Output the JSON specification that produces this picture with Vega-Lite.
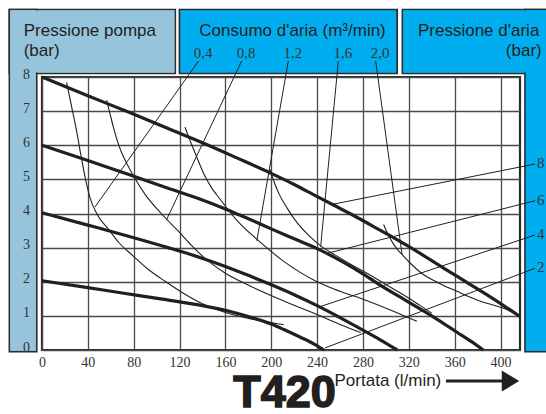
{
  "$schema": "https://vega.github.io/schema/vega-lite/v6.json",
  "width": 478,
  "height": 273,
  "autosize": {"type": "none"},
  "padding": {"left": 42, "top": 77, "right": 26, "bottom": 64},
  "background": "white",
  "config": {"view": {"stroke": "#2a2a2a", "strokeWidth": 2.2}},
  "resolve": {"axis": {"x": "independent", "y": "independent"}},
  "datasets": {
    "pump": [
      {"air": 8, "q": 0, "p": 8.0}, {"air": 8, "q": 40, "p": 7.45}, {"air": 8, "q": 77, "p": 6.95}, {"air": 8, "q": 110, "p": 6.49},
      {"air": 8, "q": 141, "p": 6.06}, {"air": 8, "q": 170, "p": 5.63}, {"air": 8, "q": 199, "p": 5.19}, {"air": 8, "q": 220, "p": 4.85},
      {"air": 8, "q": 236, "p": 4.57}, {"air": 8, "q": 253, "p": 4.27}, {"air": 8, "q": 273, "p": 3.92}, {"air": 8, "q": 287, "p": 3.66},
      {"air": 8, "q": 302, "p": 3.38}, {"air": 8, "q": 318, "p": 3.07}, {"air": 8, "q": 340, "p": 2.62}, {"air": 8, "q": 360, "p": 2.2},
      {"air": 8, "q": 390, "p": 1.58}, {"air": 8, "q": 417, "p": 0.98},
      {"air": 6, "q": 0, "p": 6.0}, {"air": 6, "q": 40, "p": 5.55}, {"air": 6, "q": 77, "p": 5.13}, {"air": 6, "q": 110, "p": 4.74},
      {"air": 6, "q": 134, "p": 4.47}, {"air": 6, "q": 161, "p": 4.12}, {"air": 6, "q": 175, "p": 3.92}, {"air": 6, "q": 190, "p": 3.7},
      {"air": 6, "q": 200, "p": 3.55}, {"air": 6, "q": 220, "p": 3.26}, {"air": 6, "q": 240, "p": 2.97}, {"air": 6, "q": 262, "p": 2.59},
      {"air": 6, "q": 280, "p": 2.23}, {"air": 6, "q": 295, "p": 1.9}, {"air": 6, "q": 318, "p": 1.44}, {"air": 6, "q": 339, "p": 1.02},
      {"air": 6, "q": 352, "p": 0.74}, {"air": 6, "q": 362, "p": 0.52}, {"air": 6, "q": 374, "p": 0.26}, {"air": 6, "q": 385, "p": 0.0},
      {"air": 4, "q": 0, "p": 4.02}, {"air": 4, "q": 40, "p": 3.66}, {"air": 4, "q": 77, "p": 3.32}, {"air": 4, "q": 110, "p": 3.0},
      {"air": 4, "q": 137, "p": 2.72}, {"air": 4, "q": 160, "p": 2.45}, {"air": 4, "q": 182, "p": 2.16}, {"air": 4, "q": 198, "p": 1.94},
      {"air": 4, "q": 220, "p": 1.62}, {"air": 4, "q": 240, "p": 1.3}, {"air": 4, "q": 260, "p": 0.95}, {"air": 4, "q": 280, "p": 0.58},
      {"air": 4, "q": 295, "p": 0.3}, {"air": 4, "q": 310, "p": 0.0},
      {"air": 2, "q": 0, "p": 2.03}, {"air": 2, "q": 40, "p": 1.83}, {"air": 2, "q": 70, "p": 1.67}, {"air": 2, "q": 105, "p": 1.49},
      {"air": 2, "q": 140, "p": 1.3}, {"air": 2, "q": 165, "p": 1.12}, {"air": 2, "q": 182, "p": 0.96}, {"air": 2, "q": 200, "p": 0.76},
      {"air": 2, "q": 211, "p": 0.6}, {"air": 2, "q": 225, "p": 0.38}, {"air": 2, "q": 237, "p": 0.18}, {"air": 2, "q": 246, "p": 0.0}
    ],
    "consumption": [
      {"m3": "0,4", "q": 21.5, "p": 7.84}, {"m3": "0,4", "q": 26, "p": 7.1}, {"m3": "0,4", "q": 30, "p": 6.45}, {"m3": "0,4", "q": 34, "p": 5.7},
      {"m3": "0,4", "q": 38, "p": 5.0}, {"m3": "0,4", "q": 42, "p": 4.45}, {"m3": "0,4", "q": 48, "p": 3.98}, {"m3": "0,4", "q": 57.8, "p": 3.55},
      {"m3": "0,4", "q": 67, "p": 3.15}, {"m3": "0,4", "q": 78, "p": 2.8}, {"m3": "0,4", "q": 92, "p": 2.38}, {"m3": "0,4", "q": 107, "p": 2.02},
      {"m3": "0,4", "q": 124, "p": 1.65}, {"m3": "0,4", "q": 141, "p": 1.34}, {"m3": "0,4", "q": 160, "p": 1.1}, {"m3": "0,4", "q": 181, "p": 0.92},
      {"m3": "0,4", "q": 197, "p": 0.82}, {"m3": "0,4", "q": 211, "p": 0.74},
      {"m3": "0,8", "q": 56.4, "p": 7.32}, {"m3": "0,8", "q": 59.5, "p": 6.9}, {"m3": "0,8", "q": 62.5, "p": 6.5}, {"m3": "0,8", "q": 66, "p": 6.1},
      {"m3": "0,8", "q": 69.5, "p": 5.78}, {"m3": "0,8", "q": 75, "p": 5.4}, {"m3": "0,8", "q": 80, "p": 5.09}, {"m3": "0,8", "q": 89.9, "p": 4.56},
      {"m3": "0,8", "q": 104, "p": 4.0}, {"m3": "0,8", "q": 119, "p": 3.48}, {"m3": "0,8", "q": 130, "p": 3.08}, {"m3": "0,8", "q": 141, "p": 2.72},
      {"m3": "0,8", "q": 160, "p": 2.25}, {"m3": "0,8", "q": 182, "p": 1.87}, {"m3": "0,8", "q": 210, "p": 1.45}, {"m3": "0,8", "q": 240, "p": 1.04},
      {"m3": "0,8", "q": 258, "p": 0.78}, {"m3": "0,8", "q": 278, "p": 0.51},
      {"m3": "1,2", "q": 124.8, "p": 6.53}, {"m3": "1,2", "q": 129, "p": 6.15}, {"m3": "1,2", "q": 133.5, "p": 5.78}, {"m3": "1,2", "q": 140.8, "p": 5.19},
      {"m3": "1,2", "q": 148, "p": 4.75}, {"m3": "1,2", "q": 155.6, "p": 4.41}, {"m3": "1,2", "q": 170, "p": 3.8}, {"m3": "1,2", "q": 187.6, "p": 3.24},
      {"m3": "1,2", "q": 210, "p": 2.62}, {"m3": "1,2", "q": 240, "p": 2.0}, {"m3": "1,2", "q": 260, "p": 1.72}, {"m3": "1,2", "q": 280.6, "p": 1.48},
      {"m3": "1,2", "q": 305, "p": 1.16}, {"m3": "1,2", "q": 327, "p": 0.84},
      {"m3": "1,6", "q": 198.8, "p": 5.3}, {"m3": "1,6", "q": 203, "p": 4.88}, {"m3": "1,6", "q": 207, "p": 4.56}, {"m3": "1,6", "q": 214, "p": 4.15},
      {"m3": "1,6", "q": 221, "p": 3.8}, {"m3": "1,6", "q": 232, "p": 3.38}, {"m3": "1,6", "q": 244, "p": 3.03}, {"m3": "1,6", "q": 256, "p": 2.78},
      {"m3": "1,6", "q": 270, "p": 2.5}, {"m3": "1,6", "q": 285, "p": 2.22}, {"m3": "1,6", "q": 301, "p": 1.9}, {"m3": "1,6", "q": 318, "p": 1.56},
      {"m3": "1,6", "q": 330, "p": 1.3}, {"m3": "1,6", "q": 340, "p": 1.08},
      {"m3": "2,0", "q": 298, "p": 3.68}, {"m3": "2,0", "q": 302, "p": 3.38}, {"m3": "2,0", "q": 306, "p": 3.14}, {"m3": "2,0", "q": 310, "p": 2.95},
      {"m3": "2,0", "q": 314, "p": 2.8}, {"m3": "2,0", "q": 322, "p": 2.52}, {"m3": "2,0", "q": 330, "p": 2.28}, {"m3": "2,0", "q": 345, "p": 1.98},
      {"m3": "2,0", "q": 362, "p": 1.72}, {"m3": "2,0", "q": 380, "p": 1.46}, {"m3": "2,0", "q": 402, "p": 1.23}, {"m3": "2,0", "q": 416, "p": 1.02}
    ],
    "consumptionLabels": [
      {"m3": "0,4", "q": 46.2, "p": 4.19, "q2": 136.6, "p2": 8.47},
      {"m3": "0,8", "q": 108.4, "p": 3.8, "q2": 174.2, "p2": 8.47},
      {"m3": "1,2", "q": 187.4, "p": 3.2, "q2": 214.9, "p2": 8.47},
      {"m3": "1,6", "q": 243.1, "p": 3.03, "q2": 258.5, "p2": 8.47},
      {"m3": "2,0", "q": 314.1, "p": 2.8, "q2": 291.1, "p2": 8.47}
    ],
    "airLabels": [
      {"air": "8", "q": 252.7, "p": 4.264, "q2": 430.1, "p2": 5.45},
      {"air": "6", "q": 248.4, "p": 2.83, "q2": 430.1, "p2": 4.375},
      {"air": "4", "q": 242.5, "p": 1.27, "q2": 430.1, "p2": 3.37},
      {"air": "2", "q": 246.9, "p": 0.06, "q2": 430.1, "p2": 2.394}
    ]
  },
  "layer": [
    {
      "data": {"values": [{}]},
      "mark": {"type": "rect", "fill": "#96c4dc", "stroke": "#2b2b2b", "strokeWidth": 1.7},
      "encoding": {
        "x": {"datum": -28.44, "axis": null}, "x2": {"datum": 116.29},
        "y": {"datum": 9.978, "axis": null}, "y2": {"datum": 8.103}
      }
    },
    {
      "data": {"values": [{}]},
      "mark": {"type": "rect", "fill": "#96c4dc", "stroke": "#2b2b2b", "strokeWidth": 1.7},
      "encoding": {
        "x": {"datum": -28.44, "axis": null}, "x2": {"datum": -4.62},
        "y": {"datum": 9.978, "axis": null}, "y2": {"datum": -0.05}
      }
    },
    {
      "data": {"values": [{}]},
      "mark": {"type": "rect", "fill": "#96c4dc"},
      "encoding": {
        "x": {"datum": -27.7, "axis": null}, "x2": {"datum": 115.55},
        "y": {"datum": 9.952, "axis": null}, "y2": {"datum": 8.129}
      }
    },
    {
      "data": {"values": [{}]},
      "mark": {"type": "rect", "fill": "#96c4dc"},
      "encoding": {
        "x": {"datum": -27.7, "axis": null}, "x2": {"datum": -5.36},
        "y": {"datum": 9.952, "axis": null}, "y2": {"datum": -0.024}
      }
    },
    {
      "data": {"values": [{}]},
      "mark": {"type": "rect", "fill": "#00aeef", "stroke": "#2b2b2b", "strokeWidth": 1.7},
      "encoding": {
        "x": {"datum": 119.87, "axis": null}, "x2": {"datum": 309.87},
        "y": {"datum": 9.978, "axis": null}, "y2": {"datum": 8.103}
      }
    },
    {
      "data": {"values": [{}]},
      "mark": {"type": "rect", "fill": "#00aeef", "stroke": "#2b2b2b", "strokeWidth": 1.7},
      "encoding": {
        "x": {"datum": 314.41, "axis": null}, "x2": {"datum": 447.5},
        "y": {"datum": 9.978, "axis": null}, "y2": {"datum": 8.103}
      }
    },
    {
      "data": {"values": [{}]},
      "mark": {"type": "rect", "fill": "#00aeef", "stroke": "#2b2b2b", "strokeWidth": 1.7},
      "encoding": {
        "x": {"datum": 421.36, "axis": null}, "x2": {"datum": 447.5},
        "y": {"datum": 9.978, "axis": null}, "y2": {"datum": -0.05}
      }
    },
    {
      "data": {"values": [{}]},
      "mark": {"type": "rect", "fill": "#00aeef"},
      "encoding": {
        "x": {"datum": 315.15, "axis": null}, "x2": {"datum": 447.5},
        "y": {"datum": 9.952, "axis": null}, "y2": {"datum": 8.129}
      }
    },
    {
      "data": {"values": [{}]},
      "mark": {"type": "rect", "fill": "#00aeef"},
      "encoding": {
        "x": {"datum": 422.1, "axis": null}, "x2": {"datum": 447.5},
        "y": {"datum": 9.952, "axis": null}, "y2": {"datum": -0.024}
      }
    },
    {
      "data": {"values": [{}]},
      "mark": {"type": "text", "text": ["Pressione pompa", "(bar)"], "align": "left", "baseline": "alphabetic", "font": "Liberation Sans", "fontSize": 17, "lineHeight": 20, "color": "#231f20"},
      "encoding": {"x": {"datum": -15.96, "axis": null}, "y": {"datum": 9.204, "axis": null}}
    },
    {
      "data": {"values": [{}]},
      "mark": {"type": "text", "text": "Consumo d'aria (m³/min)", "align": "left", "baseline": "alphabetic", "font": "Liberation Sans", "fontSize": 17, "color": "#231f20"},
      "encoding": {"x": {"datum": 137.2, "axis": null}, "y": {"datum": 9.204, "axis": null}}
    },
    {
      "data": {"values": [{}]},
      "mark": {"type": "text", "text": "Pressione d'aria", "align": "left", "baseline": "alphabetic", "font": "Liberation Sans", "fontSize": 17, "color": "#231f20"},
      "encoding": {"x": {"datum": 328.0, "axis": null}, "y": {"datum": 9.204, "axis": null}}
    },
    {
      "data": {"values": [{}]},
      "mark": {"type": "text", "text": "(bar)", "align": "right", "baseline": "alphabetic", "font": "Liberation Sans", "fontSize": 17, "color": "#231f20"},
      "encoding": {"x": {"datum": 436.0, "axis": null}, "y": {"datum": 8.615, "axis": null}}
    },
    {
      "data": {"name": "consumption"},
      "mark": {"type": "line", "interpolate": "monotone", "strokeWidth": 1.1, "color": "#231f20"},
      "encoding": {
        "x": {"field": "q", "type": "quantitative", "axis": null},
        "y": {"field": "p", "type": "quantitative",
          "axis": {"orient": "left", "values": [0, 1, 2, 3, 4, 5, 6, 7, 8], "grid": false, "ticks": false, "domain": false,
            "labelFont": "Liberation Serif", "labelFontSize": 14, "labelColor": "#333333", "labelPadding": 16,
            "labelAlign": "center", "labelBaseline": "middle", "labelOffset": -3, "title": null, "zindex": 1}},
        "detail": {"field": "m3", "type": "nominal"}
      }
    },
    {
      "data": {"name": "pump"},
      "mark": {"type": "line", "interpolate": "monotone", "strokeWidth": 3.2, "color": "#231f20"},
      "encoding": {
        "x": {"field": "q", "type": "quantitative", "scale": {"domain": [0, 417], "nice": false, "zero": false},
          "axis": {"orient": "bottom", "values": [0, 40, 80, 120, 160, 200, 240, 280, 320, 360, 400], "grid": true, "gridColor": "#4a4a4a", "gridWidth": 1.3,
            "ticks": false, "domain": false, "labelFont": "Liberation Serif", "labelFontSize": 14, "labelColor": "#333333",
            "labelPadding": 5, "labelFlush": false, "labelOverlap": false, "title": null, "zindex": 0}},
        "y": {"field": "p", "type": "quantitative", "scale": {"domain": [0, 8], "nice": false, "zero": false},
          "axis": {"orient": "left", "values": [0, 1, 2, 3, 4, 5, 6, 7, 8], "grid": true, "gridColor": "#4a4a4a", "gridWidth": 1.3,
            "ticks": false, "domain": false, "labels": false, "title": null, "zindex": 0}},
        "detail": {"field": "air", "type": "nominal"}
      }
    },
    {
      "data": {"name": "consumptionLabels"},
      "mark": {"type": "rule", "strokeWidth": 1, "color": "#231f20"},
      "encoding": {
        "x": {"field": "q", "type": "quantitative", "axis": null},
        "y": {"field": "p", "type": "quantitative", "axis": null},
        "x2": {"field": "q2"}, "y2": {"field": "p2"}
      }
    },
    {
      "data": {"name": "consumptionLabels"},
      "mark": {"type": "text", "align": "center", "baseline": "alphabetic", "dx": 4.5, "dy": -3, "font": "Liberation Serif", "fontSize": 15, "color": "#333333"},
      "encoding": {
        "x": {"field": "q2", "type": "quantitative", "axis": null},
        "y": {"field": "p2", "type": "quantitative", "axis": null},
        "text": {"field": "m3"}
      }
    },
    {
      "data": {"name": "airLabels"},
      "mark": {"type": "rule", "strokeWidth": 1, "color": "#231f20"},
      "encoding": {
        "x": {"field": "q", "type": "quantitative", "axis": null},
        "y": {"field": "p", "type": "quantitative", "axis": null},
        "x2": {"field": "q2"}, "y2": {"field": "p2"}
      }
    },
    {
      "data": {"name": "airLabels"},
      "mark": {"type": "text", "align": "left", "baseline": "middle", "dx": 2, "dy": -1, "font": "Liberation Serif", "fontSize": 15, "color": "#333333"},
      "encoding": {
        "x": {"field": "q2", "type": "quantitative", "axis": null},
        "y": {"field": "p2", "type": "quantitative", "axis": null},
        "text": {"field": "air"}
      }
    },
    {
      "data": {"values": [{}]},
      "mark": {"type": "text", "text": "Portata (l/min)", "align": "left", "baseline": "alphabetic", "font": "Liberation Sans", "fontSize": 17, "color": "#231f20"},
      "encoding": {"x": {"datum": 255.2, "axis": null}, "y": {"datum": -1.064, "axis": null}}
    },
    {
      "data": {"values": [{}]},
      "mark": {"type": "rule", "strokeWidth": 3, "color": "#231f20"},
      "encoding": {"x": {"datum": 352.4, "axis": null}, "x2": {"datum": 403}, "y": {"datum": -0.911, "axis": null}}
    },
    {
      "data": {"values": [{}]},
      "mark": {"type": "point", "shape": "M -1 -1.2 L 1 0 L -1 1.2 Z", "size": 306, "filled": true, "color": "#231f20", "opacity": 1},
      "encoding": {"x": {"datum": 408.7, "axis": null}, "y": {"datum": -0.911, "axis": null}}
    },
    {
      "data": {"values": [{}]},
      "mark": {"type": "text", "text": "T420", "align": "center", "baseline": "alphabetic", "font": "Liberation Sans", "fontWeight": "bold", "fontSize": 45, "color": "#231f20", "stroke": "#231f20", "strokeWidth": 1.5},
      "encoding": {"x": {"datum": 211.6, "axis": null}, "y": {"datum": -1.67, "axis": null}}
    }
  ]
}
